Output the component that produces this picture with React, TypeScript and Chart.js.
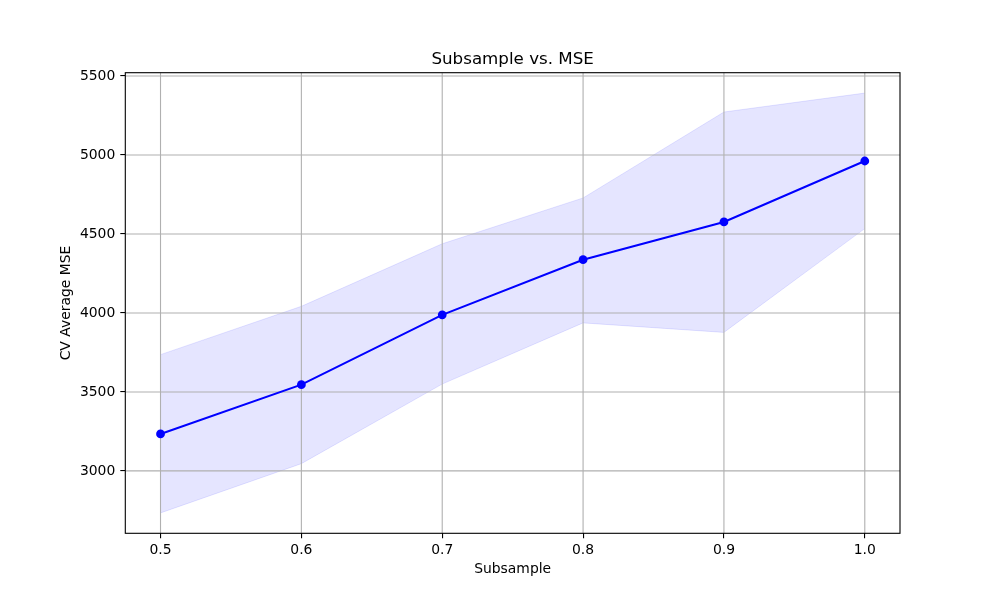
import React, { useEffect, useRef } from "react";
import { Chart, registerables } from "chart.js";

Chart.register(...registerables);

const subsample = [0.5, 0.6, 0.7, 0.8, 0.9, 1.0];
const meanMSE = [3234, 3546, 3988, 4337, 4576, 4962];
const upperMSE = [3736, 4042, 4438, 4728, 5272, 5392];
const lowerMSE = [2734, 3046, 3550, 3937, 3877, 4534];
const xTicks = [0.5, 0.6, 0.7, 0.8, 0.9, 1.0];
const yTicks = [3000, 3500, 4000, 4500, 5000, 5500];
const chartTitle = "Subsample vs. MSE";

const FONT = "'DejaVu Sans', sans-serif";

export default function App() {
  const ref = useRef<HTMLCanvasElement | null>(null);

  useEffect(() => {
    if (!ref.current) return;
    const gridPlugin = {
      id: "mplGrid",
      beforeDatasetDraw(chart: any, args: any) {
        if (args.index !== 0) return;
        const { ctx, chartArea } = chart;
        const xs = chart.scales.x;
        const ys = chart.scales.y;
        ctx.save();
        ctx.strokeStyle = "#b0b0b0";
        ctx.lineWidth = 1.1;
        ctx.beginPath();
        xTicks.forEach((v) => {
          const px = xs.getPixelForValue(v);
          ctx.moveTo(px, chartArea.top);
          ctx.lineTo(px, chartArea.bottom);
        });
        yTicks.forEach((v) => {
          const py = ys.getPixelForValue(v);
          ctx.moveTo(chartArea.left, py);
          ctx.lineTo(chartArea.right, py);
        });
        ctx.stroke();
        ctx.restore();
      },
      afterDraw(chart: any) {
        const { ctx, chartArea } = chart;
        ctx.save();
        ctx.strokeStyle = "#000";
        ctx.lineWidth = 1.1;
        ctx.strokeRect(
          chartArea.left,
          chartArea.top,
          chartArea.right - chartArea.left,
          chartArea.bottom - chartArea.top
        );
        ctx.fillStyle = "#000";
        ctx.font = "16.7px " + FONT;
        ctx.textAlign = "center";
        ctx.textBaseline = "alphabetic";
        ctx.fillText(chartTitle, (chartArea.left + chartArea.right) / 2, chartArea.top - 8.3);
        ctx.restore();
      },
    };

    const chart = new Chart(ref.current, {
      type: "line",
      data: {
        datasets: [
          {
            label: "mean",
            data: subsample.map((x, i) => ({ x, y: meanMSE[i] })),
            borderColor: "#0000ff",
            backgroundColor: "#0000ff",
            borderWidth: 2.08,
            pointRadius: 4.4,
            pointBorderWidth: 0,
            pointBackgroundColor: "#0000ff",
            fill: false,
            tension: 0,
          },
          {
            label: "upper",
            data: subsample.map((x, i) => ({ x, y: upperMSE[i] })),
            borderColor: "rgba(0,0,255,0.1)",
            backgroundColor: "rgba(0,0,255,0.1)",
            borderWidth: 1,
            pointRadius: 0,
            fill: "+1",
            tension: 0,
          },
          {
            label: "lower",
            data: subsample.map((x, i) => ({ x, y: lowerMSE[i] })),
            borderColor: "rgba(0,0,255,0.1)",
            backgroundColor: "rgba(0,0,255,0.1)",
            borderWidth: 1,
            pointRadius: 0,
            fill: false,
            tension: 0,
          },
        ],
      },
      options: {
        responsive: false,
        animation: false,
        layout: { padding: { left: 0, right: 100, top: 72.7, bottom: 0 } },
        plugins: {
          legend: { display: false },
          tooltip: { enabled: false },
          title: { display: false },
        },
        scales: {
          x: {
            type: "linear",
            min: 0.475,
            max: 1.025,
            afterBuildTicks: (s: any) => {
              s.ticks = xTicks.map((v) => ({ value: v }));
            },
            afterFit: (s: any) => {
              s.height = 66.7;
            },
            ticks: {
              color: "#000",
              font: { family: FONT, size: 13.9 },
              padding: 4,
              maxRotation: 0,
              callback: (v: any) => Number(v).toFixed(1),
            },
            grid: {
              drawOnChartArea: false,
              drawTicks: true,
              tickLength: 5,
              tickColor: "#000",
              lineWidth: 1.1,
            },
            border: { display: false },
            title: {
              display: true,
              text: "Subsample",
              color: "#000",
              font: { family: FONT, size: 13.9 },
              padding: { top: 0, bottom: 22.7 },
            },
          },
          y: {
            type: "linear",
            min: 2605,
            max: 5521,
            afterBuildTicks: (s: any) => {
              s.ticks = yTicks.map((v) => ({ value: v }));
            },
            afterFit: (s: any) => {
              s.width = 125.3;
            },
            ticks: {
              color: "#000",
              font: { family: FONT, size: 13.9 },
              padding: 5,
              callback: (v: any) => String(v),
            },
            grid: {
              drawOnChartArea: false,
              drawTicks: true,
              tickLength: 5,
              tickColor: "#000",
              lineWidth: 1.1,
            },
            border: { display: false },
            title: {
              display: true,
              text: "CV Average MSE",
              color: "#000",
              font: { family: FONT, size: 13.9 },
              padding: { top: 57.7, bottom: 0 },
            },
          },
        },
      },
      plugins: [gridPlugin],
    });
    return () => chart.destroy();
  }, []);

  return (
    <div style={{ position: "absolute", left: 0, top: 0, width: 1000, height: 600, background: "#fff" }}>
      <canvas ref={ref} width={1000} height={600} style={{ width: 1000, height: 600, display: "block" }} />
    </div>
  );
}
